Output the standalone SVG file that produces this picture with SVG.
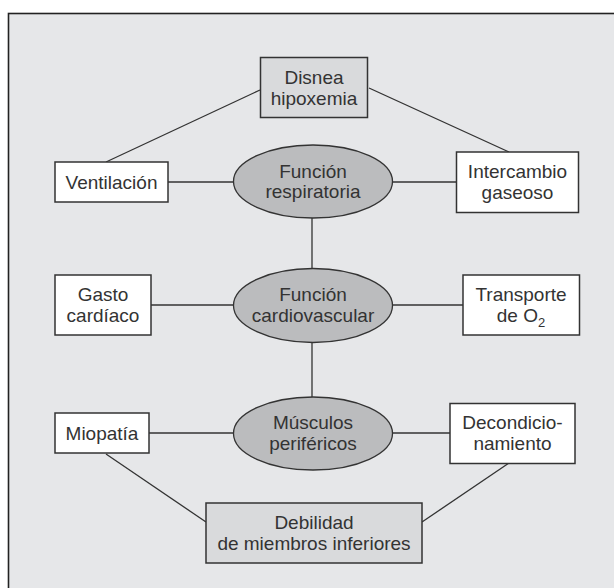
<svg xmlns="http://www.w3.org/2000/svg" width="614" height="588" viewBox="0 0 614 588">
<style>
  .frame { fill: #e6e7e9; stroke: #222; stroke-width: 1.6; }
  .box { fill: #ffffff; stroke: #333; stroke-width: 1.5; }
  .gbox { fill: #d9dadc; stroke: #333; stroke-width: 1.5; }
  .ell { fill: #bbbcbe; stroke: #333; stroke-width: 1.3; }
  .conn line { stroke: #333; stroke-width: 1.3; }
  text { font-family: "Liberation Sans", Arial, sans-serif; font-size: 19px; fill: #333; text-anchor: middle; }
</style>
<rect width="614" height="588" fill="#ffffff"/>
<rect class="frame" x="8.5" y="13.5" width="700" height="700"/>

<g id="connectors" class="conn">
  <line x1="260" y1="90" x2="106" y2="162"/>
  <line x1="369" y1="88" x2="509" y2="152"/>
  <line x1="168" y1="182" x2="234" y2="182"/>
  <line x1="393" y1="182" x2="456" y2="182"/>
  <line x1="312" y1="218" x2="312" y2="268"/>
  <line x1="151" y1="305" x2="234" y2="305"/>
  <line x1="393" y1="305" x2="463" y2="305"/>
  <line x1="312" y1="342" x2="312" y2="397"/>
  <line x1="149" y1="433" x2="234" y2="433"/>
  <line x1="393" y1="433" x2="450" y2="433"/>
  <line x1="106" y1="454" x2="206" y2="522"/>
  <line x1="509" y1="463" x2="422" y2="522"/>
</g>

<g id="disnea">
  <rect class="gbox" x="260.5" y="57.5" width="107" height="60"/>
  <text x="314" y="84">Disnea</text>
  <text x="314" y="105">hipoxemia</text>
</g>

<g id="ventilacion">
  <rect class="box" x="55" y="162" width="113" height="40"/>
  <text x="111.5" y="189">Ventilación</text>
</g>

<g id="funcion-respiratoria">
  <ellipse class="ell" cx="313" cy="181.5" rx="79.5" ry="36.5"/>
  <text x="313" y="178">Función</text>
  <text x="313" y="198">respiratoria</text>
</g>

<g id="intercambio">
  <rect class="box" x="456.5" y="152" width="122" height="60.5"/>
  <text x="517.5" y="178">Intercambio</text>
  <text x="517.5" y="199">gaseoso</text>
</g>

<g id="gasto">
  <rect class="box" x="55" y="275" width="96" height="60"/>
  <text x="103" y="301">Gasto</text>
  <text x="103" y="322">cardíaco</text>
</g>

<g id="funcion-cardiovascular">
  <ellipse class="ell" cx="313" cy="305.5" rx="79.5" ry="37"/>
  <text x="313" y="301">Función</text>
  <text x="313" y="322">cardiovascular</text>
</g>

<g id="transporte">
  <rect class="box" x="463" y="275" width="116.5" height="60"/>
  <text x="521" y="301">Transporte</text>
  <text x="521" y="322">de O<tspan font-size="13" dy="5">2</tspan></text>
</g>

<g id="miopatia">
  <rect class="box" x="55" y="413" width="94" height="40"/>
  <text x="102" y="440">Miopatía</text>
</g>

<g id="musculos">
  <ellipse class="ell" cx="313" cy="433.5" rx="79.5" ry="36.5"/>
  <text x="313" y="429">Músculos</text>
  <text x="313" y="450">periféricos</text>
</g>

<g id="decondicionamiento">
  <rect class="box" x="450" y="403.5" width="125" height="60"/>
  <text x="512.5" y="429">Decondicio-</text>
  <text x="512.5" y="450">namiento</text>
</g>

<g id="debilidad">
  <rect class="gbox" x="206" y="503" width="216" height="60"/>
  <text x="314" y="529">Debilidad</text>
  <text x="314" y="550">de miembros inferiores</text>
</g>
</svg>
